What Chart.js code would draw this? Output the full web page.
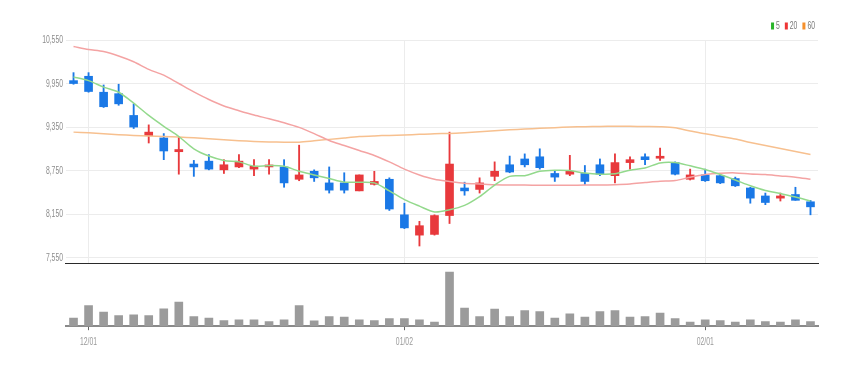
<!DOCTYPE html>
<html>
<head>
<meta charset="utf-8">
<script src="https://cdn.jsdelivr.net/npm/chart.js@4.4.1/dist/chart.umd.min.js"></script>
<style>
  body { margin: 0; background: #fff; }
  #wrap { position: relative; width: 860px; height: 366px; }
  #price { position: absolute; left: 0; top: 0; }
  #volume { position: absolute; left: 0; top: 263px; }
</style>
</head>
<body>
<div id="wrap">
  <canvas id="price" width="860" height="264"></canvas>
  <canvas id="volume" width="860" height="103"></canvas>
</div>
<script>
const dates = ['11/30', '12/01', '12/02', '12/05', '12/06', '12/07', '12/08', '12/09', '12/12', '12/13',
    '12/14', '12/15', '12/16', '12/19', '12/20', '12/21', '12/22', '12/23', '12/26', '12/27',
    '12/28', '12/29', '01/02', '01/03', '01/04', '01/05', '01/06', '01/09', '01/10', '01/11',
    '01/12', '01/13', '01/16', '01/17', '01/18', '01/19', '01/20', '01/25', '01/26', '01/27',
    '01/30', '01/31', '02/01', '02/02', '02/03', '02/06', '02/07', '02/08', '02/09', '02/10'];

const open = [9990, 10050, 9830, 9810, 9510, 9230, 9200, 9010, 8840, 8880,
    8760, 8800, 8770, 8800, 8800, 8630, 8740, 8580, 8580, 8470,
    8560, 8630, 8140, 7860, 7870, 8130, 8510, 8490, 8670, 8830,
    8910, 8940, 8710, 8700, 8710, 8830, 8680, 8860, 8940, 8920,
    8860, 8630, 8690, 8680, 8640, 8510, 8400, 8370, 8420, 8320];
const high = [10100, 10100, 9930, 9940, 9670, 9380, 9260, 9210, 8890, 8970,
    8900, 8970, 8900, 8900, 8900, 9100, 8760, 8800, 8720, 8690,
    8740, 8650, 8300, 8050, 8140, 9280, 8590, 8650, 8870, 8950,
    8980, 9050, 8750, 8960, 8820, 8910, 8980, 8940, 8980, 9060,
    8870, 8770, 8770, 8700, 8660, 8520, 8440, 8440, 8520, 8340];
const low = [9940, 9830, 9620, 9650, 9330, 9130, 8900, 8700, 8670, 8760,
    8710, 8790, 8680, 8700, 8520, 8610, 8600, 8440, 8440, 8470,
    8550, 8200, 7950, 7710, 7860, 8020, 8410, 8440, 8610, 8720,
    8800, 8770, 8600, 8680, 8560, 8680, 8580, 8770, 8830, 8890,
    8690, 8620, 8600, 8570, 8530, 8300, 8280, 8330, 8340, 8140];
const close = [9950, 9840, 9630, 9670, 9350, 9280, 9020, 9040, 8800, 8770,
    8830, 8880, 8810, 8820, 8580, 8690, 8650, 8480, 8480, 8690,
    8600, 8220, 7960, 7990, 8130, 8840, 8470, 8580, 8740, 8730,
    8830, 8790, 8660, 8740, 8600, 8700, 8860, 8900, 8900, 8940,
    8700, 8690, 8610, 8580, 8540, 8370, 8310, 8400, 8340, 8250];

const ma5 = [10040, 9990, 9900, 9830, 9680, 9510, 9360, 9220, 9050, 8950,
    8890, 8870, 8810, 8820, 8810, 8740, 8690, 8640, 8590, 8590,
    8580, 8470, 8350, 8260, 8180, 8210, 8270, 8390, 8550, 8670,
    8680, 8740, 8755, 8750, 8715, 8700, 8705, 8755, 8785, 8855,
    8860, 8815, 8765, 8695, 8620, 8540, 8475, 8435, 8385, 8330];
const ma20 = [10460, 10420, 10390, 10330, 10250, 10145, 10065, 9950, 9835, 9730,
    9640, 9575, 9515, 9465, 9410, 9345, 9260, 9165, 9096, 9027,
    8958, 8870, 8770, 8690, 8630, 8600, 8575, 8565, 8555, 8550,
    8550, 8548, 8548, 8548, 8550, 8550, 8555, 8565, 8584, 8602,
    8612, 8658, 8695, 8713, 8718, 8704, 8695, 8676, 8658, 8630];
const ma60 = [9280, 9270, 9258, 9245, 9235, 9228, 9221, 9212, 9202, 9190,
    9175, 9162, 9152, 9145, 9142, 9142, 9160, 9180, 9200, 9218,
    9228, 9235, 9240, 9249, 9258, 9262, 9272, 9285, 9300, 9313,
    9322, 9332, 9341, 9350, 9355, 9359, 9360, 9360, 9358, 9355,
    9341, 9295, 9258, 9221, 9184, 9138, 9096, 9055, 9013, 8972];

const volume = [24000, 62000, 42000, 32000, 34000, 32000, 52000, 72000, 29000, 24000,
    17000, 19000, 19000, 14000, 19000, 62000, 16000, 29000, 27000, 19000,
    17000, 23000, 23000, 19000, 12000, 162000, 54000, 29000, 51000, 29000,
    47000, 44000, 24000, 37000, 27000, 44000, 47000, 27000, 29000, 39000,
    23000, 12000, 19000, 17000, 12000, 19000, 14000, 12000, 19000, 14000];

const priceTicks = [7550, 8150, 8750, 9350, 9950, 10550];

const UP = '#e8393c';
const DOWN = '#1a78e6';
const FONT = "11px 'Liberation Sans', Arial, sans-serif";
const SQUEEZE = 0.62;   // the labels in the original are very condensed

const candleColors = close.map((c, i) => c >= open[i] ? UP : DOWN);

// first trading day of a month gets a label
function monthStart(i) {
    return i > 0 && dates[i].slice(0, 2) !== dates[i - 1].slice(0, 2);
}

function narrowText(ctx, text, x, y, align) {
    ctx.save();
    ctx.translate(x, y);
    ctx.scale(SQUEEZE, 1);
    ctx.textAlign = align;
    ctx.textBaseline = 'middle';
    ctx.fillText(text, 0, 0);
    ctx.restore();
}

const priceLabels = {
    id: 'priceLabels',
    afterDraw(chart) {
        const ctx = chart.ctx;
        const s = chart.scales.y;
        ctx.save();
        ctx.font = FONT;
        ctx.fillStyle = '#8c8c8c';
        s.ticks.forEach((t, i) => {
            narrowText(ctx, t.value.toLocaleString('en-US'), s.right - 3, s.getPixelForTick(i), 'right');
        });

        // legend for the moving averages, right aligned to the plot
        const items = chart.data.datasets.filter(d => d.type === 'line');
        let x = chart.chartArea.right - 3;
        const y = 26;
        for (let k = items.length - 1; k >= 0; k--) {
            const d = items[k];
            const w = ctx.measureText(d.label).width * SQUEEZE;
            ctx.fillStyle = '#777';
            narrowText(ctx, d.label, x, y, 'right');
            x -= w + 2;
            ctx.fillStyle = d.backgroundColor;
            ctx.fillRect(x - 3, y - 3.5, 3, 7);
            x -= 3 + 5;
        }
        ctx.restore();
    }
};

const dateLabels = {
    id: 'dateLabels',
    afterDraw(chart) {
        const ctx = chart.ctx;
        const s = chart.scales.x;
        ctx.save();
        ctx.font = FONT;
        ctx.fillStyle = '#999';
        dates.forEach((d, i) => {
            if (monthStart(i)) narrowText(ctx, d, s.getPixelForTick(i), s.top + 16, 'center');
        });
        ctx.restore();
    }
};

const priceChart = new Chart(document.getElementById('price'), {
    type: 'bar',
    data: {
        labels: dates,
        datasets: [
            { type: 'line', label: '5', data: ma5, borderColor: '#93d98c', backgroundColor: '#2bb52b', borderWidth: 1.5, pointRadius: 0, tension: 0.3, order: 0 },
            { type: 'line', label: '20', data: ma20, borderColor: '#f4a3a3', backgroundColor: '#ee3535', borderWidth: 1.5, pointRadius: 0, tension: 0.3, order: 0 },
            { type: 'line', label: '60', data: ma60, borderColor: '#f7c08f', backgroundColor: '#f5902c', borderWidth: 1.5, pointRadius: 0, tension: 0.3, order: 0 },
            { label: 'body', data: open.map((o, i) => [o, close[i]]), backgroundColor: candleColors, barThickness: 8, minBarLength: 2, grouped: false, order: 1 },
            { label: 'wick', data: low.map((l, i) => [l, high[i]]), backgroundColor: candleColors, barThickness: 1.2, grouped: false, order: 2 }
        ]
    },
    options: {
        responsive: false,
        animation: false,
        layout: { padding: { left: 0, right: 42, top: 40, bottom: 0 } },
        plugins: { legend: { display: false }, tooltip: { enabled: false } },
        scales: {
            x: {
                offset: true,
                ticks: { display: false },
                grid: {
                    offset: false,
                    drawTicks: false,
                    color: (ctx) => monthStart(ctx.index) ? '#ececec' : 'transparent'
                },
                border: { display: true, color: '#2a2a2a', width: 2 }
            },
            y: {
                min: 7462,
                max: 10550,
                afterBuildTicks: (scale) => { scale.ticks = priceTicks.map(v => ({ value: v })); },
                afterFit: (scale) => { scale.width = 66; },
                ticks: { display: false },
                grid: { color: '#ececec', drawTicks: false },
                border: { display: false }
            }
        }
    },
    plugins: [priceLabels]
});

const volumeChart = new Chart(document.getElementById('volume'), {
    type: 'bar',
    data: {
        labels: dates,
        datasets: [{ data: volume, backgroundColor: '#9b9b9b', barThickness: 8 }]
    },
    options: {
        responsive: false,
        animation: false,
        layout: { padding: { left: 66, right: 42, top: 0, bottom: 13 } },
        plugins: { legend: { display: false }, tooltip: { enabled: false } },
        scales: {
            x: {
                ticks: {
                    autoSkip: false,
                    maxRotation: 0,
                    padding: 6,
                    color: 'transparent',
                    font: { size: 9 },
                    callback: (v, i) => monthStart(i) ? dates[i] : ''
                },
                grid: {
                    offset: false,
                    drawOnChartArea: false,
                    tickLength: 4,
                    color: (ctx) => monthStart(ctx.index) ? '#666' : 'transparent'
                },
                border: { display: true, color: '#8a8a8a', width: 2 }
            },
            y: { display: false, min: 0, max: 189000 }
        }
    },
    plugins: [dateLabels]
});
</script>
</body>
</html>
